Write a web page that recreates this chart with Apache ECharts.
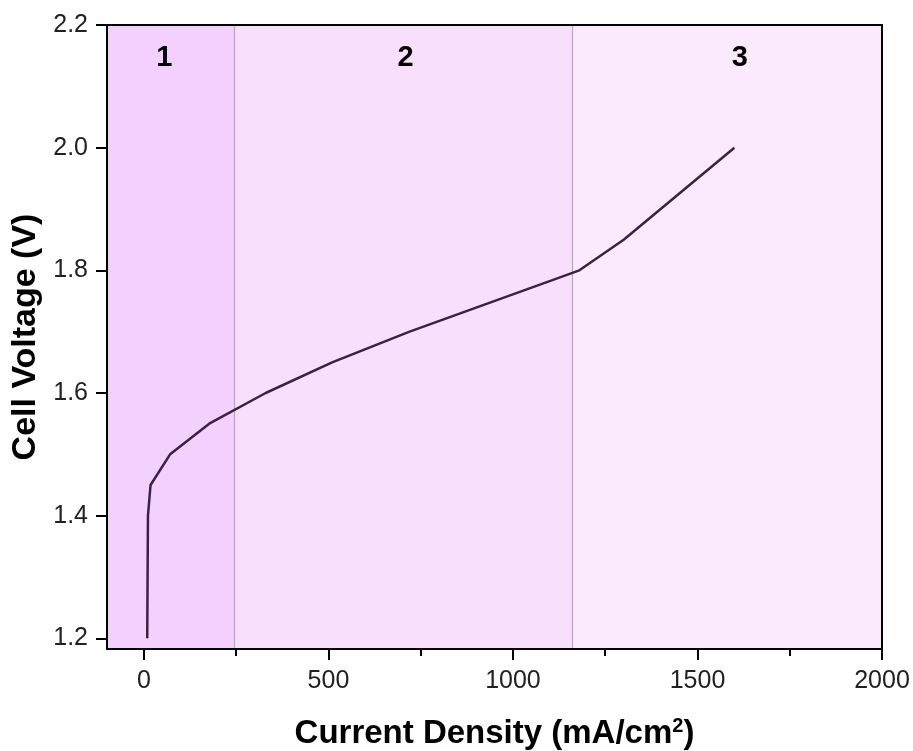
<!DOCTYPE html>
<html>
<head>
<meta charset="utf-8">
<script src="https://cdn.jsdelivr.net/npm/echarts@6/dist/echarts.min.js"></script>
<style>html,body{margin:0;padding:0;background:#fff}#c{width:913px;height:751px}</style>
</head>
<body>
<div id="c"></div>
<script>
// ---- data ----
const currentDensity = [9, 11, 18, 71, 177, 330, 510, 720, 1180, 1300, 1600];
const cellVoltage    = [1.2, 1.4, 1.45, 1.5, 1.55, 1.6, 1.65, 1.7, 1.8, 1.85, 2.0];
const regionBounds   = [-100, 245, 1160, 2000];
const regionNames    = ['1', '2', '3'];
const regionLabelX   = [55, 709, 1615];
const regionLabelY   = [2.146, 2.146, 2.146];
const xMajorTicks    = [0, 500, 1000, 1500, 2000];
const xMinorTicks    = [250, 750, 1250, 1750];
const yMajorTicks    = [1.2, 1.4, 1.6, 1.8, 2.0, 2.2];
const yMinorTicks    = [1.3, 1.5, 1.7, 1.9, 2.1];
const xRange = [-100, 2000];
const yRange = [1.1826, 2.2];

const regionColors = ['#f3d0fe', '#f8e0fd', '#fbeafe'];
const FONT = 'Liberation Sans, Arial, sans-serif';

const chart = echarts.init(document.getElementById('c'), null, {renderer: 'canvas'});

const areas = regionNames.map((n, i) => [
  {xAxis: regionBounds[i], yAxis: yRange[0], itemStyle: {color: regionColors[i], opacity: 1}},
  {xAxis: regionBounds[i + 1], yAxis: yRange[1]}
]);

const baseX = {
  type: 'value', min: xRange[0], max: xRange[1], splitLine: {show: false}
};
const baseY = {
  type: 'value', min: yRange[0], max: yRange[1], splitLine: {show: false}
};

chart.setOption({
  animation: false,
  grid: {left: 107, right: 31, top: 25, bottom: 102, containLabel: false, outerBoundsMode: 'none'},
  xAxis: [
    Object.assign({}, baseX, {
      position: 'bottom',
      name: 'Current Density (mA/cm{sup|2})',
      nameLocation: 'middle',
      nameGap: 67,
      nameTextStyle: {
        fontFamily: FONT, fontSize: 33, fontWeight: 'bold', color: '#000',
        rich: {sup: {fontFamily: FONT, fontSize: 20, fontWeight: 'bold', color: '#000', verticalAlign: 'top', padding: [0, 0, 16, 0]}}
      },
      axisLine: {show: true, onZero: false, lineStyle: {color: '#000', width: 2}},
      axisTick: {show: true, inside: false, length: 11, customValues: xMajorTicks, lineStyle: {color: '#000', width: 2}},
      axisLabel: {show: true, customValues: xMajorTicks, margin: 20, fontFamily: FONT, fontSize: 25, color: '#222',
        formatter: v => String(Math.round(v))},
      z: 10
    }),
    Object.assign({}, baseX, {
      position: 'bottom',
      axisLine: {show: false},
      axisTick: {show: true, inside: false, length: 7, customValues: xMinorTicks, lineStyle: {color: '#000', width: 2}},
      axisLabel: {show: false}
    }),
    Object.assign({}, baseX, {
      position: 'top',
      axisLine: {show: true, onZero: false, lineStyle: {color: '#000', width: 2}},
      axisTick: {show: false},
      axisLabel: {show: false},
      z: 10
    })
  ],
  yAxis: [
    Object.assign({}, baseY, {
      position: 'left',
      name: 'Cell Voltage (V)',
      nameLocation: 'middle',
      nameGap: 57,
      nameRotate: 90,
      nameTextStyle: {fontFamily: FONT, fontSize: 34, fontWeight: 'bold', color: '#000'},
      axisLine: {show: true, onZero: false, lineStyle: {color: '#000', width: 2}},
      axisTick: {show: true, inside: false, length: 11, customValues: yMajorTicks, lineStyle: {color: '#000', width: 2}},
      axisLabel: {show: true, customValues: yMajorTicks, margin: 19, fontFamily: FONT, fontSize: 25, color: '#222',
        formatter: v => Number(v).toFixed(1)},
      z: 10
    }),
    Object.assign({}, baseY, {
      position: 'left',
      axisLine: {show: false},
      axisTick: {show: true, inside: false, length: 7, customValues: yMinorTicks, lineStyle: {color: '#000', width: 2}},
      axisLabel: {show: false}
    }),
    Object.assign({}, baseY, {
      position: 'right',
      axisLine: {show: true, onZero: false, lineStyle: {color: '#000', width: 2}},
      axisTick: {show: false},
      axisLabel: {show: false},
      z: 10
    })
  ],
  series: [
    {
      type: 'line',
      xAxisIndex: 0, yAxisIndex: 0,
      data: currentDensity.map((x, i) => [x, cellVoltage[i]]),
      showSymbol: false,
      symbol: 'none',
      lineStyle: {color: '#3b2241', width: 2.5},
      z: 5,
      markArea: {silent: true, z: 1, data: areas},
      markLine: {
        silent: true, symbol: 'none', z: 2,
        label: {show: false},
        lineStyle: {color: '#bca6c4', width: 1.2, type: 'solid'},
        data: regionBounds.slice(1, 3).map(x => ({xAxis: x}))
      }
    },
    {
      type: 'scatter',
      xAxisIndex: 0, yAxisIndex: 0,
      symbolSize: 1,
      itemStyle: {color: 'rgba(0,0,0,0)'},
      data: regionNames.map((n, i) => ({value: [regionLabelX[i], regionLabelY[i]], name: n})),
      label: {show: true, position: 'inside', formatter: p => p.name,
        fontFamily: FONT, fontSize: 29, fontWeight: 'bold', color: '#000', opacity: 1},
      z: 6
    }
  ]
});
</script>
</body>
</html>
